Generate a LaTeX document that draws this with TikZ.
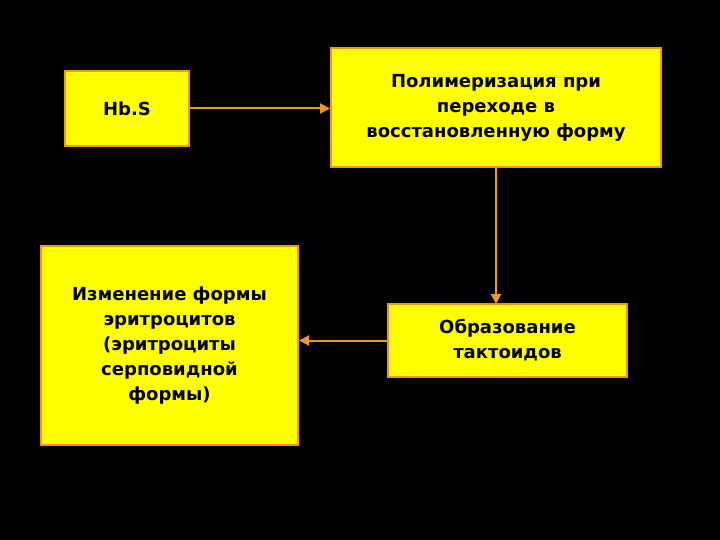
\documentclass[tikz,border=0pt]{standalone}
\usepackage{fontspec}
\setmainfont{DejaVu Sans}
\usetikzlibrary{arrows.meta}
\definecolor{boxy}{RGB}{255,255,0}
\definecolor{boxo}{RGB}{240,150,30}
\begin{document}
\begin{tikzpicture}[x=1pt,y=-1pt,
  bx/.style={draw=boxo,line width=2pt,fill=boxy,inner sep=0pt,align=center,font=\bfseries\fontsize{18}{25}\selectfont},
  ar/.style={draw=boxo,line width=2pt,-{Triangle[length=10pt,width=10pt]}}]
\fill[black] (0,0) rectangle (720,540);
\node[bx,minimum width=124pt,minimum height=75pt] (h) at (127,108.5) {Hb.S};
\node[bx,minimum width=330pt,minimum height=119pt] (p) at (496,107.5) {Полимеризация при\\переходе в\\восстановленную форму};
\node[bx,minimum width=257pt,minimum height=199pt] (i) at (169.5,345.5) {Изменение формы\\эритроцитов\\(эритроциты\\серповидной\\формы)};
\node[bx,minimum width=239pt,minimum height=73pt] (o) at (507.5,340.5) {Образование\\тактоидов};
\draw[ar] (h.east) -- (h.east -| p.west);
\draw[ar] (496,167) -- (496,304);
\draw[ar] (o.west) -- (o.west -| i.east);
\end{tikzpicture}
\end{document}
